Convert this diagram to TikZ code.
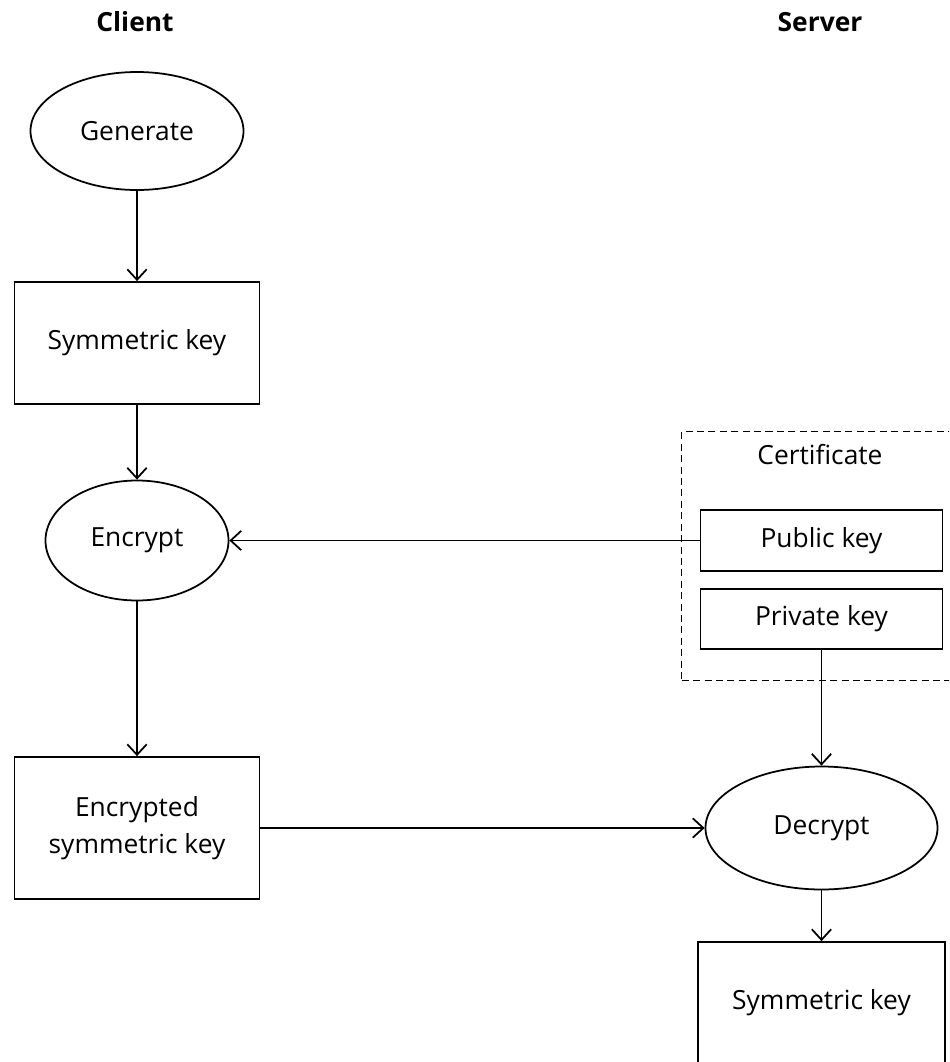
\documentclass[tikz,border=0pt]{standalone}
\usepackage{fontspec}
\setmainfont{Open Sans}
\usepackage{tikz}
\usetikzlibrary{calc, shapes, arrows.meta}
\usetikzlibrary{positioning}

\tikzset{
	keybox/.style={draw,line width=1pt,rectangle,minimum width=4.9cm,minimum height=2.44cm,align=center},
	smallkey/.style={draw,line width=1pt,rectangle,minimum width=4.84cm,minimum height=1.22cm},
	oper/.style={draw,line width=1pt,ellipse,inner sep=0pt},
	flow/.style={line width=1pt,-{Straight Barb[length=6pt,width=11pt]}}
}

\begin{document}
\begin{tikzpicture}[font=\fontsize{15}{21}\selectfont]
		\useasboundingbox (0,0) rectangle (18.98,-21.24);
		\clip (0,0) rectangle (18.98,-21.24);
		\node[font=\fontsize{15}{21}\selectfont\bfseries] (client) at (2.7,-0.44) {Client};
		\node[font=\fontsize{15}{21}\selectfont\bfseries] (server) at (16.4,-0.44) {Server};
		% client side
		\node[oper,minimum width=4.26cm,minimum height=2.36cm] (gen) at (2.74,-2.62) {Generate};
		\node[keybox] (symkey) at (2.74,-6.86) {Symmetric key};
		\node[oper,minimum width=3.66cm,minimum height=2.4cm] (encrypt) at (2.74,-10.81) {Encrypt};
		\node[keybox,minimum height=2.84cm] (enckey) at (2.74,-16.56) {Encrypted\\symmetric key};
		% server side
		\node[draw,dash pattern=on 4pt off 2.5pt,line width=0.8pt,minimum width=5.5cm,minimum height=4.98cm,anchor=north west] (cert) at (13.62,-8.62) {};
		\node (certlabel) at (16.4,-9.1) {Certificate};
		\node[smallkey] (pubkey) at (16.43,-10.81) {Public key};
		\node[smallkey,minimum height=1.2cm] (privkey) at (16.43,-12.38) {Private key};
		\node[oper,minimum width=4.64cm,minimum height=2.46cm] (decrypt) at (16.43,-16.56) {Decrypt};
		\node[keybox,minimum width=4.94cm] (symkeysrv) at (16.43,-20.06) {Symmetric key};
		% arrows
		\draw[flow] (gen) -- (symkey);
		\draw[flow] (symkey) -- (encrypt);
		\draw[flow] (encrypt) -- (enckey);
		\draw[flow] (pubkey.west) -- (encrypt.east);
		\draw[flow] (enckey.east) -- (decrypt.west);
		\draw[flow] (privkey.south) -- (decrypt.north);
		\draw[flow] (decrypt) -- (symkeysrv);
	\end{tikzpicture}
\end{document}
